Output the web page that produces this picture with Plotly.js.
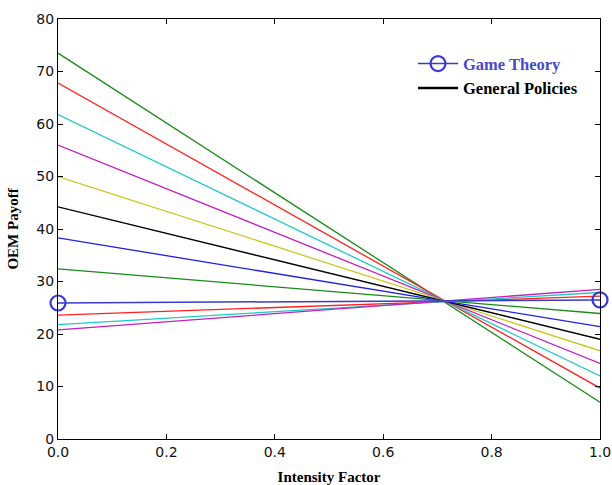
<!DOCTYPE html>
<html><head><meta charset="utf-8">
<script src="https://cdn.plot.ly/plotly-3.0.1.min.js"></script>
<style>body{margin:0;background:#fff}#chart{width:612px;height:485px}</style>
</head><body><div id="chart"></div>
<script>
const xVals = [0.0, 1.0];
const policyStart = [73.5, 67.8, 61.8, 56.0, 50.0, 44.2, 38.3, 32.4, 23.6, 21.8, 20.8];
const policyEnd   = [7.0, 9.7, 12.0, 14.4, 16.8, 19.0, 21.4, 23.9, 27.2, 27.9, 28.5];
const policyColors = ['#1a8a1a','#ff2020','#20c8c8','#c020c0','#c8c820','#000000','#2020e0','#1a8a1a','#ff2020','#20c8c8','#c020c0'];
const gameTheory = [25.9, 26.5];
const xTicks = [0, 0.2, 0.4, 0.6, 0.8, 1.0];
const yTicks = [0, 10, 20, 30, 40, 50, 60, 70, 80];

const traces = [];
policyStart.forEach((s, i) => {
  traces.push({x: xVals, y: [s, policyEnd[i]], mode: 'lines', line: {color: policyColors[i], width: 1.3}, showlegend: false, hoverinfo: 'skip'});
});
traces.push({x: xVals, y: gameTheory, mode: 'lines+markers', name: '<b><span style="color:#4a4ac8">Game Theory</span></b>',
  line: {color: '#3a3ad0', width: 1.5}, marker: {symbol: 'circle-open', size: 15, color: '#3a3ad0', line: {width: 2.2, color: '#3a3ad0'}}, cliponaxis: false});
traces.push({x: [null], y: [null], mode: 'lines', name: '<b>General Policies</b>', line: {color: '#000', width: 2.5}});

const axisCommon = {showline: true, linecolor: '#000', linewidth: 1, mirror: 'allticks', ticks: 'inside', ticklen: 5, tickcolor: '#000', showgrid: false, zeroline: false,
  tickfont: {family: 'DejaVu Sans', size: 14, color: '#111'}};
const layout = {
  width: 612, height: 485,
  margin: {l: 58, r: 12, t: 19, b: 46},
  paper_bgcolor: '#fff', plot_bgcolor: '#fff',
  xaxis: Object.assign({}, axisCommon, {range: [0, 1], tickvals: xTicks, ticktext: xTicks.map(v => v.toFixed(1)),
    title: {text: '<b>Intensity Factor</b>', font: {family: 'Liberation Serif', size: 15, color: '#000'}, standoff: 14}}),
  yaxis: Object.assign({}, axisCommon, {range: [0, 80], tickvals: yTicks,
    title: {text: '<b>OEM Payoff</b>', font: {family: 'Liberation Serif', size: 15, color: '#000'}, standoff: 14}}),
  legend: {x: 0.655, y: 0.935, xanchor: 'left', yanchor: 'top', bgcolor: 'rgba(0,0,0,0)', font: {family: 'Liberation Serif', size: 16.5, color: '#000'}, itemwidth: 40, tracegroupgap: 0}
};
Plotly.newPlot('chart', traces, layout, {displayModeBar: false});
</script></body></html>
